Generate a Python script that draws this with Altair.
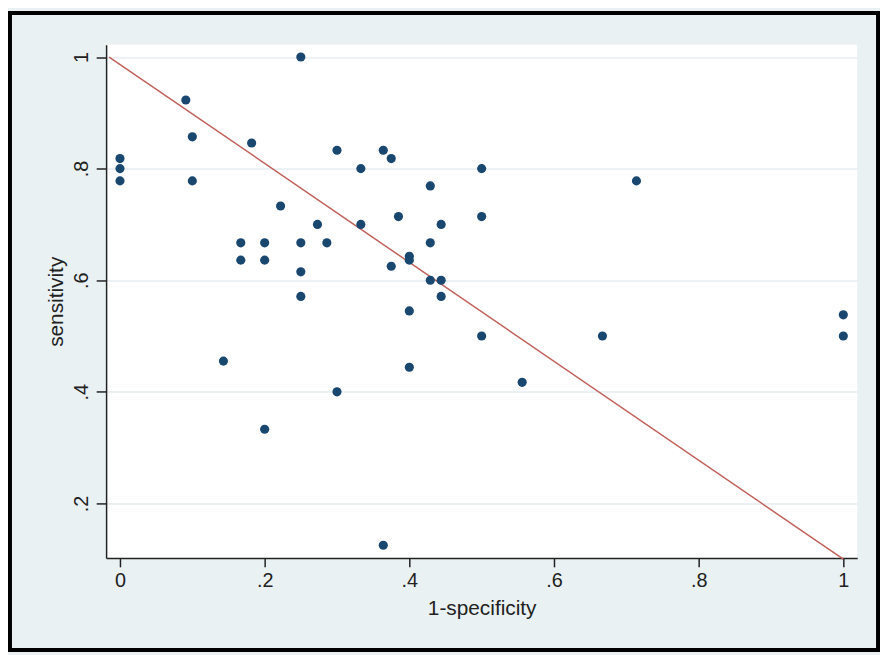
import altair as alt
import pandas as pd

# 1-specificity (false positive rate) and sensitivity for each study
fpr = [0, 0, 0, 0.091, 0.1, 0.1, 0.182, 0.25, 0.3, 0.364, 0.375, 0.333, 0.5, 0.714,
       0.429, 0.222, 0.385, 0.5, 0.273, 0.333, 0.444, 0.167, 0.2, 0.25, 0.286, 0.429,
       0.4, 0.4, 0.167, 0.2, 0.375, 0.25, 0.429, 0.444, 0.25, 0.444, 0.4, 1.0, 0.5,
       0.667, 1.0, 0.143, 0.4, 0.556, 0.3, 0.2, 0.364]
sens = [0.818, 0.8, 0.778, 0.923, 0.857, 0.778, 0.846, 1.0, 0.833, 0.833, 0.818, 0.8, 0.8, 0.778,
        0.769, 0.733, 0.714, 0.714, 0.7, 0.7, 0.7, 0.667, 0.667, 0.667, 0.667, 0.667,
        0.643, 0.636, 0.636, 0.636, 0.625, 0.615, 0.6, 0.6, 0.571, 0.571, 0.545, 0.538, 0.5,
        0.5, 0.5, 0.455, 0.444, 0.417, 0.4, 0.333, 0.125]

# reference line end points
line_x = [-0.015, 1.0]
line_y = [1.0, 0.1]

x_ticks = [0, 0.2, 0.4, 0.6, 0.8, 1]
y_ticks = [0.2, 0.4, 0.6, 0.8, 1]

pts = pd.DataFrame({"fpr": fpr, "sens": sens})
ln = pd.DataFrame({"fpr": line_x, "sens": line_y})

FONT = "Liberation Sans"
TXT = "#222222"
label_expr = ("datum.value == 0 || datum.value == 1 ? format(datum.value, 'd') : "
              "replace(format(datum.value, '.1f'), '0.', '.')")

xscale = alt.Scale(domain=[-0.0192, 1.0192], nice=False, zero=False)
yscale = alt.Scale(domain=[0.1023, 1.0222], nice=False, zero=False)

xaxis = alt.Axis(values=x_ticks, grid=False, labelExpr=label_expr, title="1-specificity",
                 domainColor=TXT, domainWidth=1.5, tickColor=TXT, tickWidth=1.5, tickSize=9,
                 labelFontSize=20, labelFont=FONT, labelColor=TXT, labelPadding=4,
                 labelBaseline="top", titleFont=FONT, titleFontSize=21, titleFontWeight="normal",
                 titleColor=TXT, titleBaseline="alphabetic", titleY=57)
yaxis = alt.Axis(values=y_ticks, grid=True, gridColor="#e4edf0", gridWidth=1.5,
                 labelExpr=label_expr, title="sensitivity",
                 domainColor=TXT, domainWidth=1.5, tickColor=TXT, tickWidth=1.5, tickSize=10,
                 labelFontSize=20, labelFont=FONT, labelColor=TXT, labelAngle=270,
                 labelAlign="center", labelBaseline="alphabetic", labelPadding=9,
                 titleFont=FONT, titleFontSize=21, titleFontWeight="normal", titleColor=TXT,
                 titleAngle=270, titleAlign="center", titleBaseline="alphabetic",
                 titleX=-44, titleY=259)

W, H = 758, 518
PL, PT, PR, PB = 99, 34, 23, 95

frame = alt.Chart(pd.DataFrame({"a": [0]})).mark_rect(
    fillOpacity=0, stroke="black", strokeWidth=4
).encode(
    x=alt.value(-PL + 2), x2=alt.value(W + PR - 2),
    y=alt.value(-PT + 2), y2=alt.value(H + PB - 2)
)

line = alt.Chart(ln).mark_line(color="#c0605a", strokeWidth=1.5).encode(
    x=alt.X("fpr:Q", scale=xscale, axis=xaxis),
    y=alt.Y("sens:Q", scale=yscale, axis=yaxis),
)

points = alt.Chart(pts).mark_circle(size=85, color="#1a476f", opacity=1).encode(
    x=alt.X("fpr:Q", scale=xscale),
    y=alt.Y("sens:Q", scale=yscale),
)

chart = alt.layer(frame, line, points).properties(
    width=W, height=H,
    background="#e9f1f3",
    padding={"left": PL, "top": PT, "right": PR, "bottom": PB},
    autosize=alt.AutoSizeParams(type="none"),
).configure_view(fill="white", strokeWidth=0)

chart.save("out.html", embed_options={"renderer": "svg", "actions": False})
